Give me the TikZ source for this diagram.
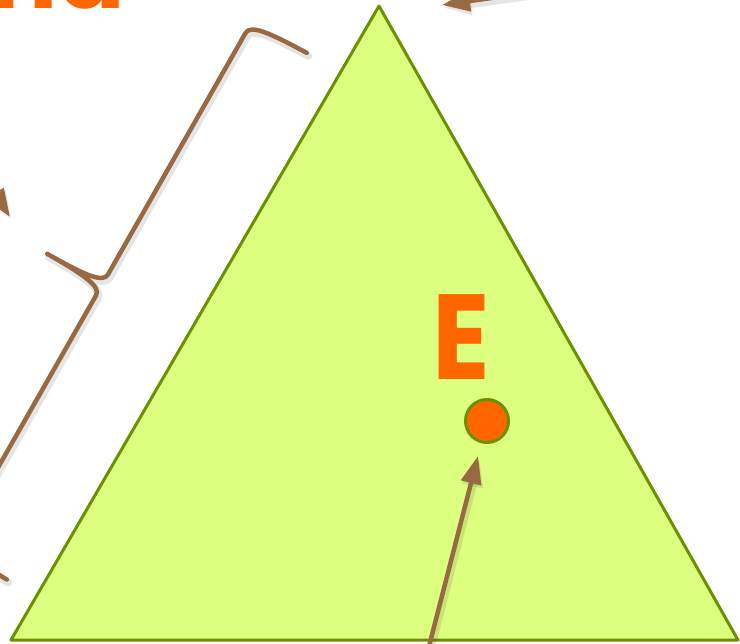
\documentclass[tikz,border=0pt]{standalone}
\usepackage{fontspec}
\setmainfont{Poppins}
\usetikzlibrary{arrows.meta}
\definecolor{brn}{RGB}{152,106,68}
\definecolor{grn}{RGB}{107,145,0}
\definecolor{trifill}{RGB}{221,255,128}
\definecolor{org}{RGB}{255,102,0}
\begin{document}
\begin{tikzpicture}[x=1pt,y=-1pt,
  shadowed/.style={preaction={draw=black,draw opacity=0.10,line width=8pt,line cap=round,line join=round,transform canvas={shift={(1.5pt,-3pt)}}}},
  brownline/.style={shadowed,draw=brn,line width=4.5pt,line cap=round,line join=round},
  arrowline/.style={brownline,-{Triangle[length=28pt,width=20pt]}},
  bigtext/.style={text=org,inner sep=0pt,font=\bfseries\fontsize{121}{121}\selectfont}]
\useasboundingbox (0,0) rectangle (740,644);
% triangle
\draw[fill=trifill,draw=grn,line width=3pt,line join=round] (379,6) -- (738,640) -- (11,640) -- cycle;
% cropped heading
\node[text=org,inner sep=0pt,font=\bfseries\fontsize{100}{100}\selectfont,anchor=base east] (head) at (126,9) {nd};
% label E and point
\node[bigtext,anchor=base west,xscale=0.88] (E) at (432,380) {E};
\node[circle,fill=org,draw=grn,line width=3pt,minimum size=43pt,inner sep=0pt] (dot) at (487,421) {};
% brace
\begin{scope}[shift={(102,285)},x={(-0.495pt,-0.869pt)},y={(0.869pt,-0.495pt)}]
\draw[brownline] (-303,63) .. controls (-302,20) and (-300,0) .. (-290,0) -- (-12,0)
  .. controls (-2,0) and (0,-20) .. (0,-63)
  .. controls (0,-20) and (2,0) .. (12,0) -- (290,0)
  .. controls (300,0) and (302,20) .. (303,63);
\end{scope}
% arrows
\coordinate (topTail) at (640,-23);
\coordinate (topTip) at (442,5);
\draw[arrowline] (topTail) -- (topTip);
\coordinate (leftTail) at (-71,91);
\coordinate (leftTip) at (10,217);
\draw[arrowline] (leftTail) -- (leftTip);
\coordinate (botTail) at (425,662);
\draw[arrowline,shorten >=13pt] (botTail) -- (dot);
\end{tikzpicture}
\end{document}
